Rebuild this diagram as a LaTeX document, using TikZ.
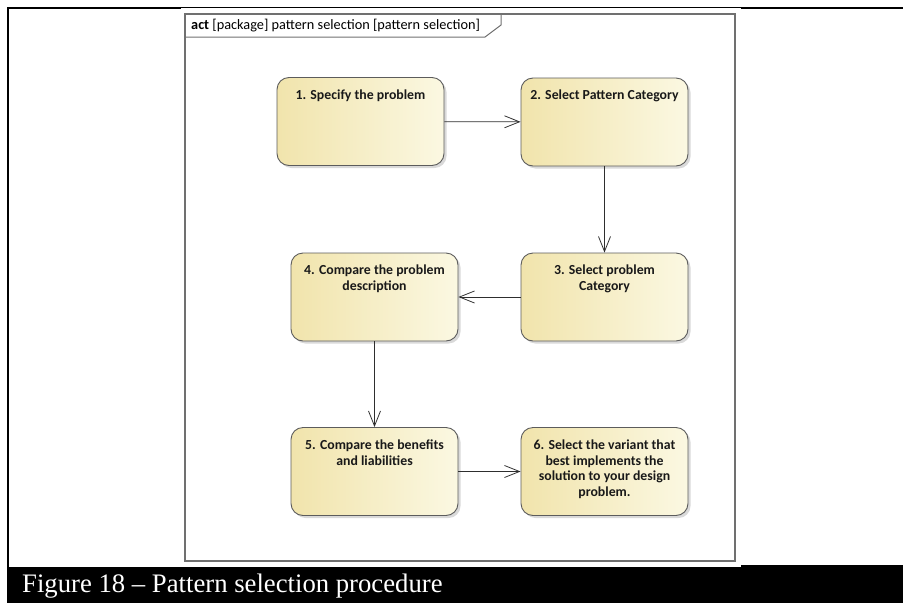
\documentclass[tikz,border=0pt]{standalone}
\usepackage{fontspec}
\setmainfont{Liberation Serif}
\newfontfamily\uifont{Carlito}
\usetikzlibrary{arrows.meta,shadows}

\definecolor{actleft}{HTML}{F1E4AC}
\definecolor{actright}{HTML}{FBF8E2}
\definecolor{actborder}{HTML}{5C5C5C}
\definecolor{framegray}{HTML}{707070}
\definecolor{flowline}{HTML}{2E2E2E}

\tikzset{
  actbox/.style={
    draw=actborder, line width=0.9pt, rounded corners=12pt,
    minimum width=167pt, minimum height=88pt, inner sep=0pt,
    left color=actleft, right color=actright,
    drop shadow={shadow xshift=2.5pt, shadow yshift=-2.5pt, opacity=0.25, fill=black!60}
  },
  acttext/.style={
    anchor=north, font=\uifont\bfseries\fontsize{13.8}{15.7}\selectfont,
    align=center, text=black!90, inner sep=0pt
  },
  flow/.style={
    draw=flowline, line width=0.8pt,
    -{Straight Barb[length=15pt, width=12pt, line width=0.8pt]}
  },
  pageline/.style={line width=2.5pt, black}
}

\newcommand{\actnode}[3]{%
  \node[actbox] (#1) at #2 {};
  \node[acttext] (#1-text) at ([yshift=-12.5pt]#1.north) {#3};
}

\begin{document}
\begin{tikzpicture}[x=1pt, y=-1pt]
  \useasboundingbox (0,0) rectangle (903,603);

  % page rules and caption band
  \draw[pageline] (8,567) -- (8,8) -- (181,8);
  \draw[line width=1pt, black] (181,7.5) -- (741,7.5);
  \draw[pageline] (741,8) -- (903,8);
  \fill[black] (7,567) rectangle (903,603);
  \fill[black] (741,565) rectangle (903,567);
  \node[anchor=base west, text=white, inner sep=0pt,
        font=\fontsize{26.7}{30}\selectfont] (caption) at (22,592)
        {Figure 18 -- Pattern selection procedure};

  % activity frame with name tab
  \draw[framegray, line width=1.2pt] (185,14) rectangle (735,561);
  \draw[framegray, line width=1pt] (185,37) -- (485,37) -- (501,25) -- (501,14);
  \node[anchor=west, inner sep=0pt, font=\uifont\fontsize{14.3}{15}\selectfont]
        (frametitle) at (191,26) {\textbf{act} [package] pattern selection [pattern selection]};

  % actions
  \actnode{s1}{(360.5,121.5)}{1. Specify the problem}
  \actnode{s2}{(604.5,122)}{2. Select Pattern Category}
  \actnode{s3}{(604.5,297)}{3. Select problem\\Category}
  \actnode{s4}{(374.5,297)}{4. Compare the problem\\description}
  \actnode{s5}{(374.5,471.5)}{5. Compare the benefits\\and liabilities}
  \actnode{s6}{(604.5,471.5)}{6. Select the variant that\\best implements the\\solution to your design\\problem.}

  % control flows
  \draw[flow] (s1) -- (s2);
  \draw[flow] (s2) -- (s3);
  \draw[flow] (s3) -- (s4);
  \draw[flow] (s4) -- (s5);
  \draw[flow] (s5) -- (s6);
\end{tikzpicture}
\end{document}
